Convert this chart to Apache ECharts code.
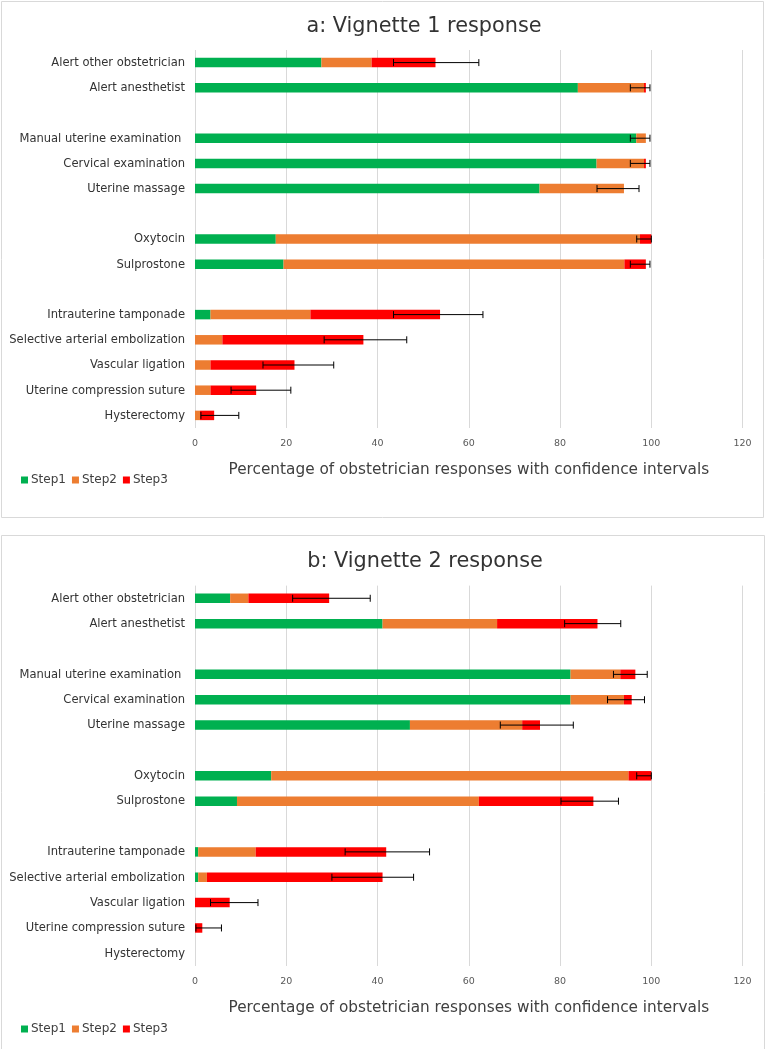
<!DOCTYPE html>
<html>
<head>
<meta charset="utf-8">
<title>Vignette responses</title>
<script src="https://cdn.jsdelivr.net/npm/echarts@6/dist/echarts.min.js"></script>
<style>
  html, body { margin: 0; padding: 0; background: #fff; }
  #chart { width: 766px; height: 1049px; }
</style>
</head>
<body>
<div id="chart"></div>
<script>
// categories, top to bottom (blank strings are the gaps between groups)
const categories = [
    'Alert other obstetrician', 'Alert anesthetist', ' ',
    'Manual uterine examination ', 'Cervical examination', 'Uterine massage', '  ',
    'Oxytocin', 'Sulprostone', '   ',
    'Intrauterine tamponade', 'Selective arterial embolization', 'Vascular ligation',
    'Uterine compression suture', 'Hysterectomy'
];
const xTicks = [0, 20, 40, 60, 80, 100, 120];
const stepNames = ['Step1', 'Step2', 'Step3'];

// a: vignette 1, segment lengths per step
const v1Step1 = [27.7, 83.9, null, 96.7, 88.0, 75.5, null, 17.7, 19.4, null, 3.4, 0, 0, 0, 0];
const v1Step2 = [11.0, 14.5, null, 2.1, 10.4, 18.5, null, 79.8, 74.7, null, 21.9, 6.0, 3.4, 3.4, 1.1];
const v1Step3 = [14.0, 0.4, null, 0, 0.4, 0, null, 2.5, 4.7, null, 28.4, 30.9, 18.4, 10.0, 3.1];
const v1CiLow = [43.5, 95.4, null, 95.4, 95.4, 88.1, null, 96.8, 95.4, null, 43.5, 28.3, 14.9, 7.9, 1.3];
const v1CiHigh = [62.2, 99.7, null, 99.7, 99.7, 97.3, null, 100, 99.7, null, 63.1, 46.4, 30.4, 21.0, 9.6];

// b: vignette 2
const v2Step1 = [7.7, 41.1, null, 82.3, 82.3, 47.1, null, 16.7, 9.2, null, 0.7, 0.7, 0, 0, 0];
const v2Step2 = [4.0, 25.1, null, 10.9, 11.7, 24.6, null, 78.3, 53.0, null, 12.6, 1.9, 0, 0, 0];
const v2Step3 = [17.7, 22.0, null, 3.3, 1.7, 3.9, null, 5.0, 25.1, null, 28.6, 38.5, 7.6, 1.6, 0];
const v2CiLow = [21.4, 81.0, null, 91.7, 90.4, 66.9, null, 96.8, 80.2, null, 32.9, 30.0, 3.4, 0.2, null];
const v2CiHigh = [38.4, 93.3, null, 99.1, 98.5, 82.9, null, 100, 92.8, null, 51.4, 47.9, 13.8, 5.8, null];

const colors = ['#00B050', '#ED7D31', '#FF0000'];
const gray = '#404040';

const chart = echarts.init(document.getElementById('chart'));

const errorBars = (lo, hi) => {
    const data = [];
    lo.forEach((v, i) => {
        if (v != null && hi[i] != null) data.push([v, hi[i], i]);
    });
    return data;
};

const renderError = (params, api) => {
    const a = api.coord([api.value(0), api.value(2)]);
    const b = api.coord([api.value(1), api.value(2)]);
    const h = 3.5;
    const st = { stroke: '#000', lineWidth: 1 };
    return {
        type: 'group',
        children: [
            { type: 'line', shape: { x1: a[0], y1: a[1], x2: b[0], y2: b[1] }, style: st },
            { type: 'line', shape: { x1: a[0], y1: a[1] - h, x2: a[0], y2: a[1] + h }, style: st },
            { type: 'line', shape: { x1: b[0], y1: b[1] - h, x2: b[0], y2: b[1] + h }, style: st }
        ]
    };
};

const panelSeries = (idx, steps, lo, hi) => {
    const out = steps.map((d, k) => ({
        name: stepNames[k],
        type: 'bar',
        stack: 'p' + idx,
        xAxisIndex: idx,
        yAxisIndex: idx,
        barWidth: 9.5,
        itemStyle: { color: colors[k] },
        data: d
    }));
    out.push({
        type: 'custom',
        xAxisIndex: idx,
        yAxisIndex: idx,
        renderItem: renderError,
        encode: { x: [0, 1], y: 2 },
        z: 5,
        data: errorBars(lo, hi)
    });
    return out;
};

const xAxisOf = (idx) => ({
    type: 'value',
    gridIndex: idx,
    min: xTicks[0],
    max: xTicks[xTicks.length - 1],
    interval: xTicks[1] - xTicks[0],
    axisLine: { show: false },
    axisTick: { show: false },
    splitLine: { lineStyle: { color: '#D9D9D9', width: 1 } },
    axisLabel: { color: '#595959', fontSize: 9.5, margin: 11 },
    name: 'Percentage of obstetrician responses with confidence intervals',
    nameLocation: 'middle',
    nameGap: 35,
    nameTextStyle: { color: gray, fontSize: 15.3 }
});

const yAxisOf = (idx) => ({
    type: 'category',
    gridIndex: idx,
    data: categories,
    inverse: true,
    axisLine: { show: false },
    axisTick: { show: false },
    axisLabel: {
        color: '#333',
        fontSize: 12.8,
        fontFamily: '"DejaVu Sans Condensed", "DejaVu Sans", sans-serif',
        margin: 10,
        interval: 0
    }
});

const option = {
    animation: false,
    textStyle: { fontFamily: '"DejaVu Sans", sans-serif' },
    graphic: [
        { type: 'rect', shape: { x: 1.5, y: 1.5, width: 762, height: 516 },
          style: { fill: 'none', stroke: '#D9D9D9', lineWidth: 1 }, silent: true },
        { type: 'rect', shape: { x: 1.5, y: 535.5, width: 763, height: 520 },
          style: { fill: 'none', stroke: '#D9D9D9', lineWidth: 1 }, silent: true }
    ],
    title: [
        { text: 'a: Vignette 1 response', left: 419, top: 11, textAlign: 'center',
          textStyle: { fontSize: 20.8, fontWeight: 'normal', color: '#333' } },
        { text: 'b: Vignette 2 response', left: 420, top: 546, textAlign: 'center',
          textStyle: { fontSize: 20.8, fontWeight: 'normal', color: '#333' } }
    ],
    legend: [0, 1].map(i => ({
        data: stepNames,
        left: 16,
        top: i === 0 ? 469 : 1018,
        icon: 'rect',
        itemWidth: 7,
        itemHeight: 7,
        itemGap: 6,
        textStyle: { color: gray, fontSize: 12, padding: [0, 0, 0, -2] },
        selectedMode: false
    })),
    grid: [
        { left: 195, right: 23.4, top: 50, height: 378 },
        { left: 195, right: 23.4, top: 585.6, height: 380.4 }
    ],
    xAxis: [xAxisOf(0), xAxisOf(1)],
    yAxis: [yAxisOf(0), yAxisOf(1)],
    series: [
        ...panelSeries(0, [v1Step1, v1Step2, v1Step3], v1CiLow, v1CiHigh),
        ...panelSeries(1, [v2Step1, v2Step2, v2Step3], v2CiLow, v2CiHigh)
    ]
};

chart.setOption(option);
window.addEventListener('resize', () => chart.resize());
</script>
</body>
</html>
